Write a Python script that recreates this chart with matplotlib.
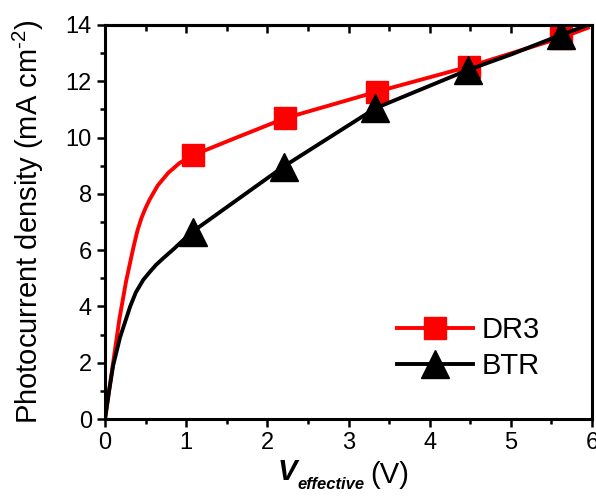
import matplotlib.pyplot as plt
from matplotlib.ticker import MultipleLocator

plt.rcParams['font.family'] = ['Liberation Sans', 'DejaVu Sans']
plt.rcParams['mathtext.fontset'] = 'custom'
plt.rcParams['mathtext.it'] = 'Liberation Sans:italic:bold'
plt.rcParams['mathtext.rm'] = 'Liberation Sans'

# DR3 curve
dr3_v = [0, 0.05, 0.10, 0.18, 0.26, 0.35, 0.40, 0.45, 0.50, 0.55, 0.65, 0.78,
         0.92, 1.09, 1.62, 2.22, 3.35, 4.48, 5.62, 5.95]
dr3_j = [0, 1.0, 2.0, 3.6, 4.9, 6.1, 6.7, 7.15, 7.5, 7.8, 8.3, 8.75,
         9.1, 9.38, 10.0, 10.69, 11.63, 12.52, 13.55, 13.9]
dr3_marks = [13, 15, 16, 17, 18]

# BTR curve
btr_v = [0, 0.05, 0.10, 0.185, 0.31, 0.38, 0.47, 0.55, 0.63, 0.72, 0.85, 0.95,
         1.08, 2.20, 3.33, 4.47, 5.0, 5.62, 5.95]
btr_j = [0, 1.0, 1.9, 2.9, 4.0, 4.5, 4.94, 5.22, 5.48, 5.72, 6.05, 6.32,
         6.66, 8.97, 11.04, 12.40, 12.95, 13.65, 14.0]
btr_marks = [12, 13, 14, 15, 17]

fig = plt.figure(figsize=(5.96, 4.97), dpi=100)
ax = fig.add_axes([0.1762, 0.1569, 0.8171, 0.7928])

ax.plot(dr3_v, dr3_j, color='red', lw=2.8, marker='s', ms=16.5,
        markevery=dr3_marks, label='DR3')
ax.plot(btr_v, btr_j, color='black', lw=2.8, marker='^', ms=20,
        markevery=btr_marks, label='BTR')

ax.set_xlim(0, 6)
ax.set_ylim(0, 14)
ax.xaxis.set_major_locator(MultipleLocator(1))
ax.xaxis.set_minor_locator(MultipleLocator(0.5))
ax.yaxis.set_major_locator(MultipleLocator(2))
ax.yaxis.set_minor_locator(MultipleLocator(1))

for s in ax.spines.values():
    s.set_linewidth(2.2)

ax.tick_params(which='both', direction='out', width=1.8, labelsize=17,
               right=False, top=False)
ax.tick_params(which='major', length=6)
ax.tick_params(which='minor', length=3.5)

top = ax.secondary_xaxis('top')
top.xaxis.set_major_locator(MultipleLocator(1))
top.xaxis.set_minor_locator(MultipleLocator(0.5))
top.tick_params(which='both', direction='in', width=1.8, labeltop=False)
top.tick_params(which='major', length=6)
top.tick_params(which='minor', length=4)
top.spines['top'].set_linewidth(2.2)

# x label built from pieces so the subscript can be smaller
ax.text(0.355, -0.155, 'V', transform=ax.transAxes, fontsize=21,
        fontweight='bold', fontstyle='italic', ha='left', va='baseline')
ax.text(0.396, -0.178, 'effective', transform=ax.transAxes, fontsize=12,
        fontweight='bold', fontstyle='italic', ha='left', va='baseline')
ax.text(0.545, -0.163, '(V)', transform=ax.transAxes, fontsize=21,
        ha='left', va='baseline')

ax.set_ylabel(r'Photocurrent density (mA cm$^{\text{-2}}$)',
              fontsize=21, labelpad=14)

ax.legend(loc='upper left', bbox_to_anchor=(0.60, 0.262), frameon=False,
          fontsize=21, handlelength=2.6, handletextpad=0.3,
          labelspacing=0.28, borderpad=0, borderaxespad=0)

fig.savefig('out.png', dpi=100)
